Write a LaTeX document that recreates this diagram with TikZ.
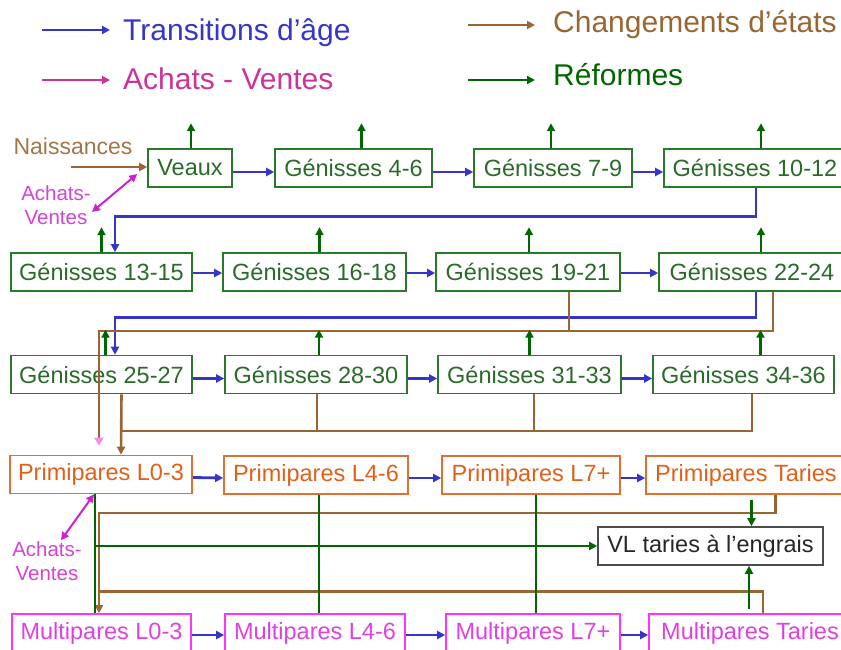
\documentclass[tikz,border=0pt]{standalone}
\usepackage{fontspec}
\setmainfont{Liberation Sans}
\usetikzlibrary{arrows.meta}

\definecolor{agecol}{HTML}{3535C8}
\definecolor{ventecol}{HTML}{CC3399}
\definecolor{avcol}{HTML}{CC22CC}
\definecolor{etatcol}{HTML}{996633}
\definecolor{refcol}{HTML}{006600}
\definecolor{gencol}{HTML}{2A782A}
\definecolor{gentext}{HTML}{2A6A2A}
\definecolor{primcol}{HTML}{E07030}
\definecolor{primtext}{HTML}{E0601A}
\definecolor{multcol}{HTML}{FF33FF}
\definecolor{multtext}{HTML}{E040E0}
\definecolor{pinktip}{HTML}{FF88EE}

\tikzset{
    box/.style={draw, line width=1.6pt, minimum height=38pt, inner sep=0pt,
        font=\fontsize{23.5}{27}\selectfont},
    genisse/.style={box, draw=gencol, text=gentext},
    primi/.style={box, draw=primcol, text=primtext},
    multi/.style={box, draw=multcol, text=multtext},
    engrais/.style={box, draw=black!70, text=black!85},
    legend/.style={anchor=base west, inner xsep=13pt, inner ysep=0pt,
        font=\fontsize{30}{34}\selectfont},
    tip/.style={-{Triangle[length=8pt,width=8pt]}},
    age/.style={tip, draw=agecol, line width=2.8pt},
    vente/.style={{Triangle[length=8pt,width=8pt]}-{Triangle[length=8pt,width=8pt]}, draw=avcol, line width=2pt},
    etat/.style={draw=etatcol, line width=2.6pt},
    reforme/.style={draw=refcol, line width=2.4pt}
}

\begin{document}
\begin{tikzpicture}[x=1pt,y=-1pt]
    \useasboundingbox (0,0) rectangle (841,649);

    %% legend
    \node[legend,text=agecol] (lage) at (110,40) {Transitions d’âge};
    \node[legend,text=ventecol] (lvente) at (110,89) {Achats - Ventes};
    \node[legend,text=etatcol,inner xsep=18pt] (letat) at (535,32) {Changements d’états};
    \node[legend,text=refcol,inner xsep=18pt] (lref) at (535,85) {Réformes};
    \coordinate (la) at (42,30);
    \coordinate (lv) at (42,80);
    \coordinate (le) at (468,25);
    \coordinate (lr) at (468,80);
    \draw[age] (la) -- ([yshift=10pt]lage.base west);
    \draw[tip,draw=ventecol,line width=1.8pt] (lv) -- ([yshift=9pt]lvente.base west);
    \draw[tip,etat,line width=1.8pt] (le) -- ([yshift=7pt]letat.base west);
    \draw[tip,reforme,line width=2.6pt] (lr) -- ([yshift=5pt]lref.base west);

    %% génisses
    \node[genisse,minimum width=84pt] (veaux) at (190,168) {Veaux};
    \node[genisse,minimum width=157pt] (g46) at (353.5,168) {Génisses 4-6};
    \node[genisse,minimum width=158pt] (g79) at (553,168) {Génisses 7-9};
    \node[genisse,minimum width=182pt] (g1012) at (755,168) {Génisses 10-12};
    \node[genisse,minimum width=181pt] (g1315) at (101.5,272) {Génisses 13-15};
    \node[genisse,minimum width=183pt] (g1618) at (314.5,272) {Génisses 16-18};
    \node[genisse,minimum width=184pt] (g1921) at (528,272) {Génisses 19-21};
    \node[genisse,minimum width=186pt] (g2224) at (752,272) {Génisses 22-24};
    \node[genisse,minimum width=181pt] (g2527) at (101.5,374.5) {Génisses 25-27};
    \node[genisse,minimum width=182pt] (g2830) at (316,374.5) {Génisses 28-30};
    \node[genisse,minimum width=183pt] (g3133) at (529.5,374.5) {Génisses 31-33};
    \node[genisse,minimum width=181pt] (g3436) at (743.5,374.5) {Génisses 34-36};

    %% vaches
    \node[primi,minimum width=182pt] (p03) at (101,474.5) {Primipares L0-3};
    \node[primi,minimum width=184pt] (p46) at (316,475) {Primipares L4-6};
    \node[primi,minimum width=178pt] (p7) at (531,475) {Primipares L7+};
    \node[primi,minimum width=200pt] (ptar) at (746,475) {Primipares Taries};
    \node[engrais,minimum width=225pt] (vl) at (710.5,546) {VL taries à l’engrais};
    \node[multi,minimum width=179pt] (m03) at (101.5,633) {Multipares L0-3};
    \node[multi,minimum width=180pt] (m46) at (315,633) {Multipares L4-6};
    \node[multi,minimum width=174pt] (m7) at (533,633) {Multipares L7+};
    \node[multi,minimum width=202pt] (mtar) at (750,633) {Multipares Taries};

    %% entrées
    \node[text=etatcol!90!white,inner sep=1pt,font=\fontsize{23}{26}\selectfont] (nais) at (73,146) {Naissances};
    \coordinate (nstart) at (71,167);
    \draw[tip,etat] (nstart) -- (veaux.west |- nstart);
    \node[text=avcol!85!white,inner sep=1pt,align=center,font=\fontsize{20.5}{24}\selectfont] (av1) at (56,205) {Achats-\\Ventes};
    \node[text=avcol!85!white,inner sep=1pt,align=center,font=\fontsize{20.5}{24}\selectfont] (av2) at (47,561) {Achats-\\Ventes};
    \draw[vente] ([yshift=-7pt]av1.east) -- ([xshift=-10pt,yshift=-6pt]veaux.west);
    \draw[vente] ([xshift=14pt]av2.north) -- ([xshift=-7pt]p03.south);

    %% transitions d'âge
    \foreach \a/\b in {veaux/g46,g46/g79,g79/g1012,g2527/g2830,g2830/g3133,g3133/g3436}
        \draw[age] ([yshift=-4pt]\a.east) -- ([yshift=-4pt]\b.west);
    \foreach \a/\b in {g1315/g1618,g1618/g1921,g1921/g2224}
        \draw[age] ([yshift=-1pt]\a.east) -- ([yshift=-1pt]\b.west);
    \foreach \a/\b in {p03/p46,p46/p7,p7/ptar}
        \draw[age] ([yshift=-3pt]\a.east) -- ([yshift=-3pt]\b.west);
    \foreach \a/\b in {m03/m46,m46/m7,m7/mtar}
        \draw[age] ([yshift=-2pt]\a.east) -- ([yshift=-2pt]\b.west);
    \draw[age] ([xshift=1pt]g1012.south) -- ++(0,29) -| ([xshift=13.5pt]g1315.north);
    \draw[age] ([xshift=4pt]g2224.south) -- ++(0,26) -| ([xshift=13.5pt]g2527.north);

    %% changements d'états
    \coordinate (jg) at (121,431);
    \draw[etat] ([xshift=41pt]g1921.south) -- ++(0,39);
    \draw[etat,-{Triangle[length=8pt,width=9pt,color=pinktip]}] ([xshift=21pt]g2224.south) -- ++(0,39) -| ([xshift=-2pt,yshift=9pt]p03.north);
    \draw[etat,tip] ([xshift=20pt]g2527.south) -- ([xshift=20pt]p03.north);
    \draw[etat] ([xshift=8.5pt]g3436.south) |- (jg);
    \draw[etat] ([xshift=1pt]g2830.south) -- ([xshift=1pt]g2830.south |- jg);
    \draw[etat] ([xshift=4.5pt]g3133.south) -- ([xshift=4.5pt]g3133.south |- jg);
    \draw[etat,tip] ([xshift=29.5pt]ptar.south) -- ++(0,18) -| ([xshift=-2.5pt]m03.north);
    \draw[etat] ([xshift=13pt]mtar.north) -- ++(0,-22) -| ([xshift=-2.5pt,yshift=22pt]m03.north);

    %% réformes
    \foreach \n/\dx in {veaux/1,g46/8,g79/-2,g1012/6,g1315/0,g1618/5,g1921/1,g2224/9,g2527/4,g2830/3,g3133/0,g3436/17}
        \draw[reforme,tip] ([xshift=\dx pt]\n.north) -- ++(0,-25);
    \draw[reforme] ([xshift=-6pt]p03.south) -- ([xshift=-6pt]p03.south |- m03.north);
    \draw[reforme] ([xshift=3pt]p46.south) -- ([xshift=3pt]p46.south |- m46.north);
    \draw[reforme] ([xshift=5pt]p7.south) -- ([xshift=5pt]p7.south |- m7.north);
    \draw[reforme,tip] ([xshift=-6pt]p03.south |- vl.west) -- (vl.west);
    \draw[reforme,tip] ([xshift=5.5pt,yshift=-5pt]ptar.south) -- ([xshift=5.5pt]ptar.south |- vl.north);
    \draw[reforme,tip] ([xshift=-1pt,yshift=4pt]mtar.north) -- ([xshift=-1pt]mtar.north |- vl.south);
\end{tikzpicture}
\end{document}
